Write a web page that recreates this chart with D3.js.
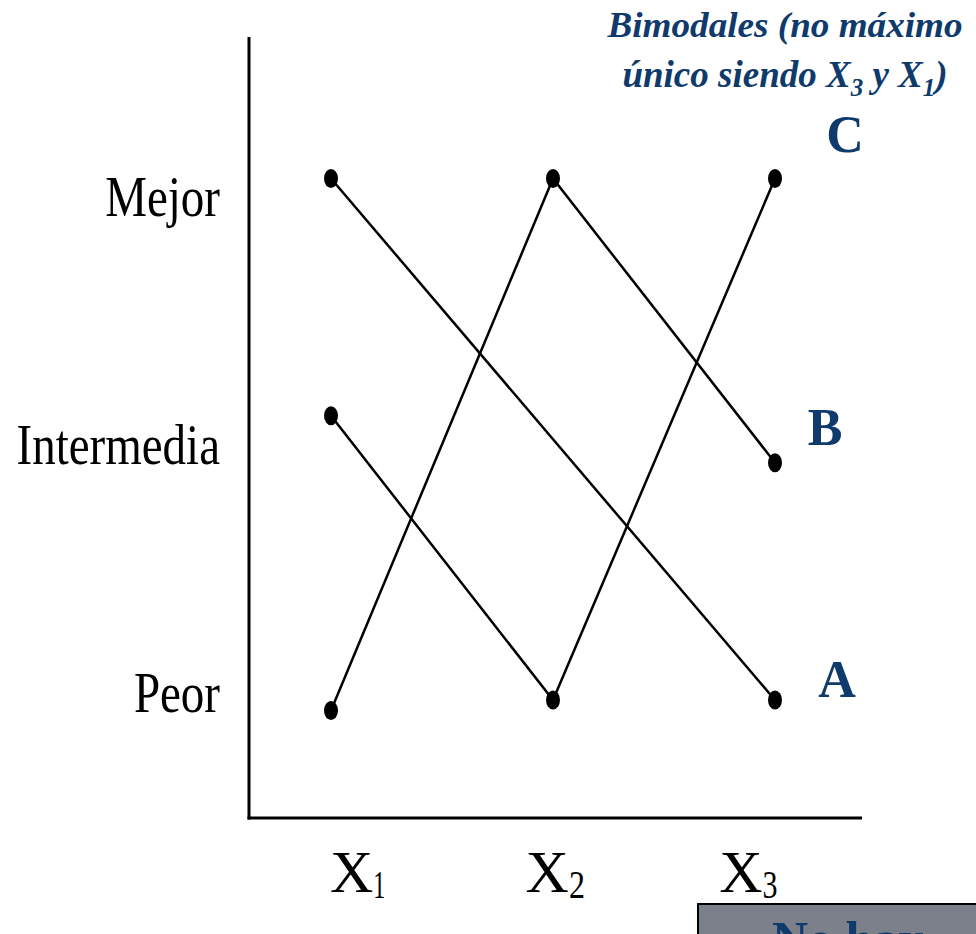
<!DOCTYPE html>
<html>
<head>
<meta charset="utf-8">
<script src="https://cdn.jsdelivr.net/npm/d3@7"></script>
<style>
  body { margin: 0; background: #fff; overflow: hidden; }
  svg { display: block; }
</style>
</head>
<body>
<div id="chart"></div>
<script>
// categories on the x axis
const xCats = ["X1", "X2", "X3"];
// where the x labels sit (in category units, as drawn)
const xLabelVals = [1.12, 2.01, 2.88];
// y levels: 1 = Peor, 2 = Intermedia, 3 = Mejor
const yTickLabels = ["Mejor", "Intermedia", "Peor"];
const yTickVals = [2.93, 1.98, 1.03];

// series values (hand drawn, so not exact levels)
const seriesA = [{x: 1, v: 3.0}, {x: 3, v: 1.0}];
const seriesB = [{x: 1, v: 0.96}, {x: 2, v: 3.0}, {x: 3, v: 1.91}];
const seriesC = [{x: 1, v: 2.09}, {x: 2, v: 1.0}, {x: 3, v: 3.0}];
const seriesNames = ["A", "B", "C"];

const W = 976, H = 934;
const blue = "#0f3a6c";
const serif = "'Liberation Serif', 'Times New Roman', serif";

const svg = d3.select("#chart").append("svg")
    .attr("width", W)
    .attr("height", H);

// frame of the plot
const frame = {left: 249, top: 37, right: 862, bottom: 818};

const x = d3.scaleLinear().domain([1, 3]).range([331, 775]);
const y = d3.scaleLinear().domain([1, 3]).range([700, 178.5]);

// axes
svg.append("line")
    .attr("x1", frame.left).attr("x2", frame.left)
    .attr("y1", frame.top).attr("y2", frame.bottom + 1.5)
    .attr("stroke", "#000").attr("stroke-width", 3);
svg.append("line")
    .attr("x1", frame.left - 1.5).attr("x2", frame.right)
    .attr("y1", frame.bottom).attr("y2", frame.bottom)
    .attr("stroke", "#000").attr("stroke-width", 3);

// y labels (slightly condensed serif)
svg.append("g")
    .selectAll("text")
    .data(yTickLabels)
    .join("text")
    .attr("transform", (d, i) => `translate(220,${y(yTickVals[i]) + 19.5}) scale(0.81,1)`)
    .attr("text-anchor", "end")
    .attr("font-family", serif)
    .attr("font-size", 58)
    .attr("fill", "#000")
    .text(d => d);

// x labels with subscripts
const xl = svg.append("g")
    .selectAll("text")
    .data(xCats)
    .join("text")
    .attr("x", (d, i) => x(xLabelVals[i]))
    .attr("y", 892)
    .attr("text-anchor", "middle")
    .attr("font-family", serif)
    .attr("font-size", 60)
    .attr("fill", "#000");
xl.append("tspan").text(d => d[0]);
xl.append("tspan")
    .attr("dx", 0)
    .attr("dy", 6)
    .attr("font-size", 40)
    .attr("textLength", (d, i) => [12, 16, 15][i])
    .attr("lengthAdjust", "spacingAndGlyphs")
    .text(d => d.slice(1));

// lines
const line = d3.line()
    .x(d => x(d.x))
    .y(d => y(d.v));

const allSeries = [seriesA, seriesB, seriesC];

svg.append("g")
    .selectAll("path")
    .data(allSeries)
    .join("path")
    .attr("d", line)
    .attr("fill", "none")
    .attr("stroke", "#000")
    .attr("stroke-width", 2.5);

svg.append("g")
    .selectAll("ellipse")
    .data(allSeries.flat())
    .join("ellipse")
    .attr("cx", d => x(d.x))
    .attr("cy", d => y(d.v))
    .attr("rx", 7)
    .attr("ry", 9.5)
    .attr("fill", "#000");

// series names next to the last point
const namePos = [[837, 697], [825, 445], [845, 152]];
svg.append("g")
    .selectAll("text")
    .data(seriesNames)
    .join("text")
    .attr("x", (d, i) => namePos[i][0])
    .attr("y", (d, i) => namePos[i][1])
    .attr("text-anchor", "middle")
    .attr("font-family", serif)
    .attr("font-weight", "bold")
    .attr("font-size", 52)
    .attr("fill", blue)
    .text(d => d);

// annotation
const note = svg.append("g")
    .attr("font-family", serif)
    .attr("font-weight", "bold")
    .attr("font-style", "italic")
    .attr("fill", blue)
    .attr("text-anchor", "middle");

note.append("text")
    .attr("x", 785).attr("y", 37)
    .attr("font-size", 36)
    .attr("textLength", 355)
    .attr("lengthAdjust", "spacingAndGlyphs")
    .text("Bimodales (no máximo");

const l2 = note.append("text")
    .attr("x", 785).attr("y", 87)
    .attr("font-size", 37);
l2.append("tspan").text("único siendo X");
l2.append("tspan").attr("font-size", 25).attr("dy", 9).text("3");
l2.append("tspan").attr("dy", -9).text(" y X");
l2.append("tspan").attr("font-size", 25).attr("dy", 9).text("1");
l2.append("tspan").attr("dy", -9).text(")");

// grey box cut by the bottom-right corner
svg.append("rect")
    .attr("x", 698).attr("y", 904)
    .attr("width", 300).attr("height", 60)
    .attr("fill", "#7b808a")
    .attr("stroke", "#000")
    .attr("stroke-width", 2);
svg.append("text")
    .attr("x", 772).attr("y", 956)
    .attr("font-family", serif)
    .attr("font-weight", "bold")
    .attr("font-size", 50)
    .attr("fill", blue)
    .text("No hay");
</script>
</body>
</html>
